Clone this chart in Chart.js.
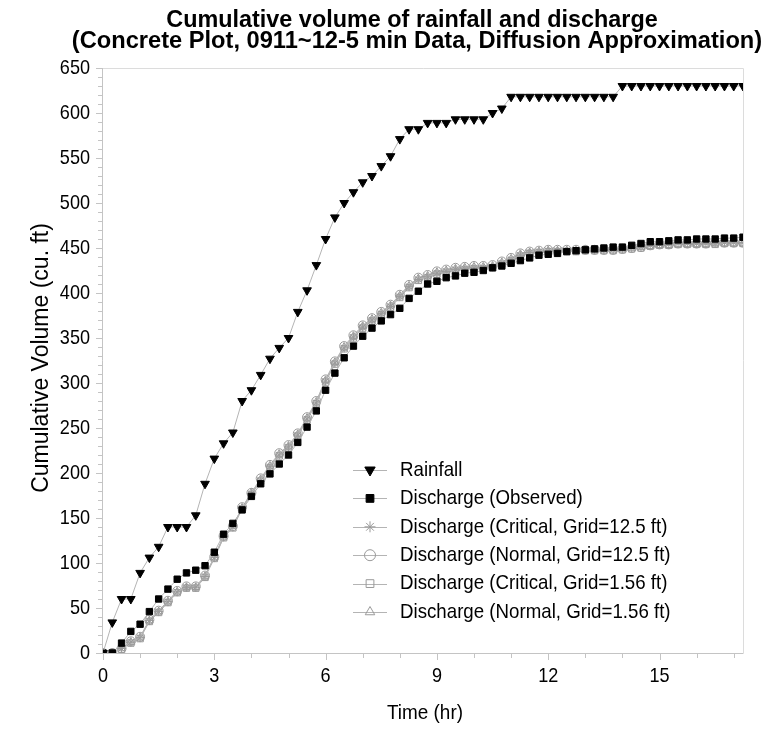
<!DOCTYPE html>
<html>
<head>
<meta charset="utf-8">
<script src="https://cdn.jsdelivr.net/npm/chart.js@4.4.1/dist/chart.umd.min.js"></script>
<style>
  html, body { margin: 0; padding: 0; background: #fff; }
  #wrap { width: 772px; height: 734px; }
</style>
</head>
<body>
<div id="wrap"><canvas id="chart"></canvas></div>
<script>
// time axis (hr), 15 min steps
const hours = [0, 0.25, 0.5, 0.75, 1, 1.25, 1.5, 1.75, 2, 2.25, 2.5, 2.75, 3, 3.25, 3.5, 3.75,
  4, 4.25, 4.5, 4.75, 5, 5.25, 5.5, 5.75, 6, 6.25, 6.5, 6.75, 7, 7.25, 7.5, 7.75,
  8, 8.25, 8.5, 8.75, 9, 9.25, 9.5, 9.75, 10, 10.25, 10.5, 10.75, 11, 11.25, 11.5, 11.75,
  12, 12.25, 12.5, 12.75, 13, 13.25, 13.5, 13.75, 14, 14.25, 14.5, 14.75, 15, 15.25, 15.5, 15.75,
  16, 16.25, 16.5, 16.75, 17, 17.25];

const rainfall = [0, 34, 60, 60, 89, 106, 118, 140, 140, 140, 153, 188, 216, 233, 245, 280,
  292, 309, 327, 339, 350, 379, 403, 431, 460, 484, 500, 512, 523, 530, 541, 552,
  571, 582, 582, 589, 589, 589, 593, 593, 593, 593, 600, 605, 618, 618, 618, 618,
  618, 618, 618, 618, 618, 618, 618, 618, 630, 630, 630, 630, 630, 630, 630, 630,
  630, 630, 630, 630, 630, 630];

const observed = [0, 0, 11, 24, 32, 46, 60, 71, 82, 89, 92, 97, 112, 132, 144, 159,
  174, 188, 199, 210, 220, 234, 251, 269, 292, 311, 328, 341, 352, 361, 369, 376,
  383, 394, 402, 410, 413, 417, 419, 422, 423, 425, 428, 430, 433, 436, 439, 442,
  443, 444, 446, 447, 448, 449, 450, 451, 451, 453, 455, 457, 457, 458, 459, 459,
  460, 460, 460, 461, 461, 462];

const critical125 = [0, 0, 5, 12, 17, 36, 46, 57, 68, 73, 73, 85, 106, 129, 140, 161,
  177, 192, 207, 220, 229, 242, 260, 278, 302, 322, 339, 351, 362, 370, 377, 385,
  396, 407, 415, 418, 422, 424, 426, 427, 428, 428, 429, 433, 437, 442, 445, 446,
  447, 447, 447, 447, 448, 448, 448, 448, 449, 450, 451, 453, 454, 454, 455, 455,
  455, 455, 455, 456, 456, 456];

const normal125 = [0, 0, 5, 13, 18, 37, 47, 58, 69, 74, 74, 86, 107, 130, 141, 162,
  178, 194, 209, 222, 231, 244, 262, 280, 304, 324, 341, 353, 364, 372, 379, 387,
  398, 409, 417, 420, 424, 426, 428, 429, 430, 430, 431, 435, 439, 444, 446, 447,
  448, 448, 448, 448, 448, 448, 448, 448, 449, 450, 451, 453, 454, 454, 455, 455,
  455, 455, 456, 456, 456, 456];

const critical156 = [0, 0, 4, 11, 16, 35, 45, 56, 67, 72, 72, 84, 105, 128, 139, 160,
  176, 191, 206, 219, 228, 241, 259, 277, 301, 321, 338, 350, 361, 369, 376, 384,
  395, 406, 414, 417, 421, 423, 425, 426, 427, 427, 428, 432, 436, 441, 444, 445,
  446, 446, 446, 446, 447, 447, 447, 447, 448, 449, 450, 452, 453, 453, 454, 454,
  454, 454, 454, 455, 455, 455];

const normal156 = [0, 0, 5, 12, 17, 36, 46, 57, 68, 73, 73, 85, 106, 129, 141, 161,
  178, 193, 208, 221, 230, 243, 261, 279, 303, 323, 340, 352, 363, 371, 378, 386,
  397, 408, 416, 419, 423, 425, 427, 428, 429, 429, 430, 434, 438, 443, 445, 446,
  447, 447, 447, 447, 448, 448, 448, 448, 449, 450, 451, 452, 453, 453, 454, 454,
  454, 454, 455, 455, 455, 455];

const seriesNames = [
  "Rainfall",
  "Discharge (Observed)",
  "Discharge (Critical, Grid=12.5 ft)",
  "Discharge (Normal, Grid=12.5 ft)",
  "Discharge (Critical, Grid=1.56 ft)",
  "Discharge (Normal, Grid=1.56 ft)"
];

const xTickLabels = [0, 3, 6, 9, 12, 15];
const yTickLabels = [0, 50, 100, 150, 200, 250, 300, 350, 400, 450, 500, 550, 600, 650];

const FONT = '"Liberation Sans", Arial, sans-serif';
const LINE = "#b4b4b4";
const SIM = "#9a9a9a";

function pts(values) {
  return hours.map((h, i) => ({ x: h, y: values[i] }));
}

function series(label, values, style, color, fill, radius, rotation) {
  return {
    label,
    data: pts(values),
    borderColor: LINE,
    borderWidth: 1,
    pointStyle: style,
    pointRotation: rotation || 0,
    pointRadius: radius,
    pointBorderColor: color,
    pointBackgroundColor: fill,
    pointBorderWidth: 1,
    tension: 0,
    fill: false
  };
}

const datasets = [
  series(seriesNames[0], rainfall, "triangle", "#000", "#000", 5, 180),
  series(seriesNames[1], observed, "rect", "#000", "#000", 4.5),
  series(seriesNames[2], critical125, "star", SIM, "rgba(0,0,0,0)", 4.5),
  series(seriesNames[3], normal125, "circle", SIM, "rgba(0,0,0,0)", 4.5),
  series(seriesNames[4], critical156, "rect", SIM, "rgba(0,0,0,0)", 4.5),
  series(seriesNames[5], normal156, "triangle", SIM, "rgba(0,0,0,0)", 4.5)
];

// text squeezed sideways, the reference uses a condensed face
function text(ctx, str, x, y, sx, align) {
  ctx.save();
  ctx.translate(x, y);
  ctx.scale(sx, 1);
  ctx.textAlign = align;
  ctx.fillText(str, 0, 0);
  ctx.restore();
}

// frame, tick marks, tick labels, titles and legend
const decor = {
  id: "decor",
  afterDraw(chart) {
    const { ctx, chartArea: a, scales: { x, y } } = chart;
    ctx.save();

    ctx.lineWidth = 1;
    ctx.strokeStyle = "#dcdcdc";
    ctx.beginPath();
    ctx.moveTo(a.left, a.top + 0.5);
    ctx.lineTo(a.right + 0.5, a.top + 0.5);
    ctx.lineTo(a.right + 0.5, a.bottom);
    ctx.stroke();
    ctx.strokeStyle = "#c4c4c4";
    ctx.beginPath();
    ctx.moveTo(a.left - 0.5, a.top);
    ctx.lineTo(a.left - 0.5, a.bottom + 0.5);
    ctx.lineTo(a.right + 0.5, a.bottom + 0.5);
    ctx.stroke();

    ctx.beginPath();
    x.ticks.forEach(t => {
      const px = Math.round(x.getPixelForValue(t.value)) + 0.5;
      const len = xTickLabels.includes(t.value) ? 7 : 5;
      ctx.moveTo(px, a.bottom);
      ctx.lineTo(px, a.bottom + len);
    });
    y.ticks.forEach(t => {
      const py = Math.round(y.getPixelForValue(t.value)) + 0.5;
      const len = yTickLabels.includes(t.value) ? 7 : 5;
      ctx.moveTo(a.left, py);
      ctx.lineTo(a.left - len, py);
    });
    ctx.stroke();

    ctx.fillStyle = "#000";
    ctx.textBaseline = "middle";
    ctx.font = "21px " + FONT;
    xTickLabels.forEach(v => text(ctx, String(v), x.getPixelForValue(v), a.bottom + 23, 0.86, "center"));
    yTickLabels.forEach(v => text(ctx, String(v), a.left - 13, y.getPixelForValue(v), 0.86, "right"));

    ctx.textBaseline = "alphabetic";
    ctx.font = "bold 24px " + FONT;
    text(ctx, "Cumulative volume of rainfall and discharge", 412, 27, 0.975, "center");
    text(ctx, "(Concrete Plot, 0911~12-5 min Data, Diffusion Approximation)", 417, 48, 0.985, "center");

    ctx.textBaseline = "middle";
    ctx.font = "21px " + FONT;
    text(ctx, "Time (hr)", 425, 713, 0.9, "center");
    ctx.save();
    ctx.translate(42, 358);
    ctx.rotate(-Math.PI / 2);
    ctx.font = "23px " + FONT;
    text(ctx, "Cumulative Volume (cu. ft)", 0, 0, 1.0, "center");
    ctx.restore();

    ctx.font = "21px " + FONT;
    chart.data.datasets.forEach((ds, i) => {
      const ly = 470 + i * 28.4;
      ctx.strokeStyle = ds.borderColor;
      ctx.lineWidth = 1;
      ctx.beginPath();
      ctx.moveTo(353, Math.round(ly) + 0.5);
      ctx.lineTo(387, Math.round(ly) + 0.5);
      ctx.stroke();
      ctx.strokeStyle = ds.pointBorderColor;
      ctx.fillStyle = ds.pointBackgroundColor;
      Chart.helpers.drawPoint(ctx, {
        pointStyle: ds.pointStyle,
        rotation: ds.pointRotation,
        radius: ds.pointRadius + 1,
        borderWidth: 1
      }, 370, ly);
      ctx.fillStyle = "#000";
      text(ctx, ds.label, 400, ly, 0.89, "left");
    });
    ctx.restore();
  }
};

new Chart(document.getElementById("chart"), {
  type: "line",
  data: { datasets },
  options: {
    responsive: true,
    maintainAspectRatio: false,
    animation: false,
    layout: { padding: { top: 68, right: 29, bottom: 0, left: 0 } },
    plugins: { legend: { display: false }, tooltip: { enabled: false } },
    scales: {
      x: {
        type: "linear",
        min: 0,
        max: 17.25,
        grid: { display: false, drawTicks: false },
        border: { display: false },
        ticks: { stepSize: 1, autoSkip: false, includeBounds: false, display: false },
        afterFit: s => { s.height = 81; }
      },
      y: {
        min: 0,
        max: 650,
        grid: { display: false, drawTicks: false },
        border: { display: false },
        ticks: { stepSize: 10, autoSkip: false, display: false },
        afterFit: s => { s.width = 103; }
      }
    }
  },
  plugins: [decor]
});
</script>
</body>
</html>
